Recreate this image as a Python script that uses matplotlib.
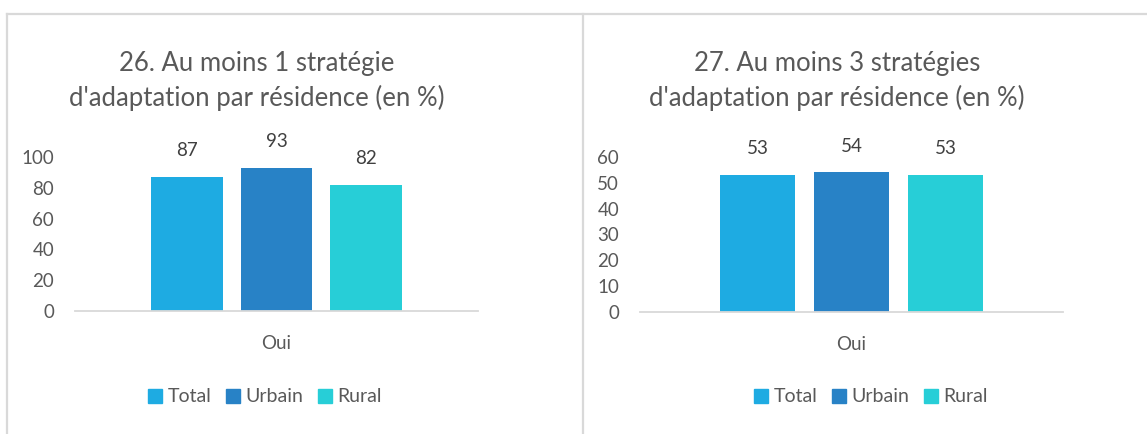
import matplotlib.pyplot as plt
from matplotlib.lines import Line2D
from matplotlib.patches import Patch

W, H = 1147, 434

series = ['Total', 'Urbain', 'Rural']
colors = ['#1eabe2', '#2882c6', '#27ced7']
category = 'Oui'

title_left = "26. Au moins 1 stratégie\nd'adaptation par résidence (en %)"
values_left = [87, 93, 82]
yticks_left = [0, 20, 40, 60, 80, 100]

title_right = "27. Au moins 3 stratégies\nd'adaptation par résidence (en %)"
values_right = [53, 54, 53]
yticks_right = [0, 10, 20, 30, 40, 50, 60]

TEXT = '#595959'
GRID = '#d9d9d9'

plt.rcParams['font.family'] = ['Lato', 'DejaVu Sans']

fig = plt.figure(figsize=(W / 100, H / 100), dpi=100)


def px_rect(x0, x1, ytop, ybot):
    return [x0 / W, 1 - ybot / H, (x1 - x0) / W, (ybot - ytop) / H]


def panel(rect, values, yticks, title, title_x, legend_x):
    ax = fig.add_axes(rect)
    step = 0.222
    for i, (v, c) in enumerate(zip(values, colors)):
        x = (i - 1) * step
        ax.bar(x, v, width=0.177, color=c, zorder=2)
        ax.annotate(str(v), (x, v), xytext=(0, 15), textcoords='offset points',
                    ha='center', va='baseline', fontsize=13.5, color='#404040')
    ax.set_xlim(-0.5, 0.5)
    ax.set_ylim(yticks[0], yticks[-1])
    ax.set_yticks(yticks)
    ax.set_xticks([0])
    ax.set_xticklabels([category])
    ax.tick_params(length=0, labelsize=13.5, colors=TEXT)
    ax.tick_params(axis='y', pad=15)
    ax.tick_params(axis='x', pad=17)
    for s in ['top', 'right', 'left']:
        ax.spines[s].set_visible(False)
    ax.spines['bottom'].set_color(GRID)
    ax.spines['bottom'].set_linewidth(1.3)
    ax.spines['bottom'].set_zorder(3)
    fig.text(title_x / W, 1 - 81 / H, title, ha='center', va='center',
             fontsize=18.5, color=TEXT, linespacing=1.45)
    handles = [Patch(color=c, label=s) for s, c in zip(series, colors)]
    fig.legend(handles=handles, loc='center', bbox_to_anchor=(legend_x / W, 1 - 397 / H),
               ncol=3, frameon=False, fontsize=14, labelcolor=TEXT,
               handlelength=0.7, handleheight=0.7, handletextpad=0.3,
               columnspacing=0.75)
    return ax


panel(px_rect(75, 478, 157, 311), values_left, yticks_left, title_left, 257, 265)
panel(px_rect(640, 1063, 157, 312), values_right, yticks_right, title_right, 837, 871)

# chart borders
fig.add_artist(Line2D([7 / W, 1], [1 - 14 / H, 1 - 14 / H], color=GRID, lw=1.6))
fig.add_artist(Line2D([7 / W, 7 / W], [0, 1 - 14 / H], color=GRID, lw=1.6))
fig.add_artist(Line2D([583 / W, 583 / W], [0, 1 - 14 / H], color=GRID, lw=1.6))

fig.savefig('out.png', dpi=100, facecolor='white')
